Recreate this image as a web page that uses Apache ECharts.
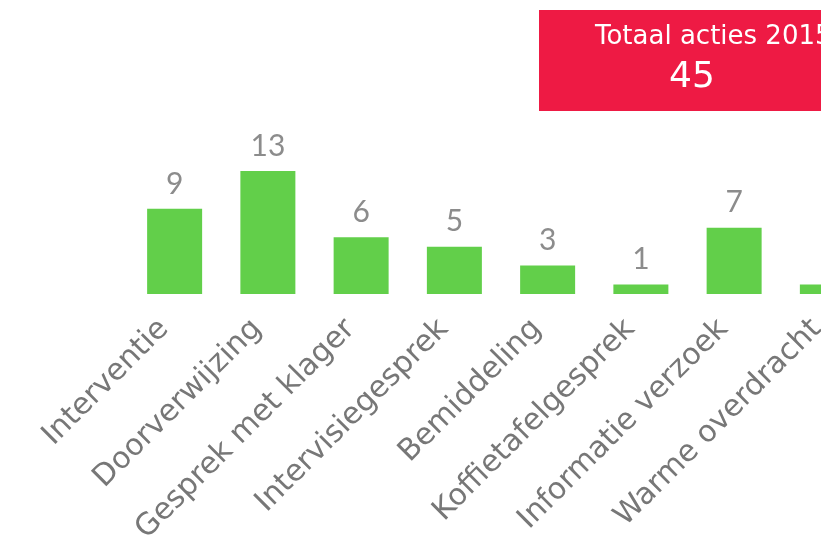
<!DOCTYPE html>
<html>
<head>
<meta charset="utf-8">
<script src="https://cdn.jsdelivr.net/npm/echarts@6/dist/echarts.min.js"></script>
<style>
html,body{margin:0;padding:0;background:#fff;}
#chart{width:821px;height:538px;}
</style>
</head>
<body>
<div id="chart"></div>
<script>
const categories = ["Interventie","Doorverwijzing","Gesprek met klager","Intervisiegesprek","Bemiddeling","Koffietafelgesprek","Informatie verzoek","Warme overdracht"];
const values = [9,13,6,5,3,1,7,1];
const totalLabel = "Totaal acties 2015";
const totalValue = "45";

const chart = echarts.init(document.getElementById('chart'), null, {renderer:'canvas'});
chart.setOption({
  animation:false,
  backgroundColor:'#ffffff',
  grid:{left:128, right:-53, top:171, height:123, containLabel:false, outerBoundsMode:'none'},
  xAxis:{
    type:'category',
    data:categories,
    axisLine:{show:false},
    axisTick:{show:false},
    axisLabel:{rotate:45, margin:41, verticalAlign:'bottom', lineHeight:30, fontFamily:'DejaVu Sans', fontSize:30, color:'#777777', interval:0}
  },
  yAxis:{type:'value', min:0, max:13, show:false, splitLine:{show:false}},
  series:[{
    type:'bar',
    data:values,
    barWidth:55,
    itemStyle:{color:'#62cf4a'},
    label:{show:true, position:'top', distance:10, fontFamily:'Lato', fontSize:30, color:'#8c8c8c'}
  }],
  graphic:[
    {type:'rect', left:539, top:10, shape:{width:300, height:101}, style:{fill:'#ee1a44'}},
    {type:'text', left:595, top:24, style:{text:totalLabel, fontFamily:'DejaVu Sans', fontSize:26, fill:'#ffffff'}},
    {type:'text', left:669, top:60, style:{text:totalValue, fontFamily:'DejaVu Sans', fontSize:36, fill:'#ffffff'}}
  ]
});
</script>
</body>
</html>
